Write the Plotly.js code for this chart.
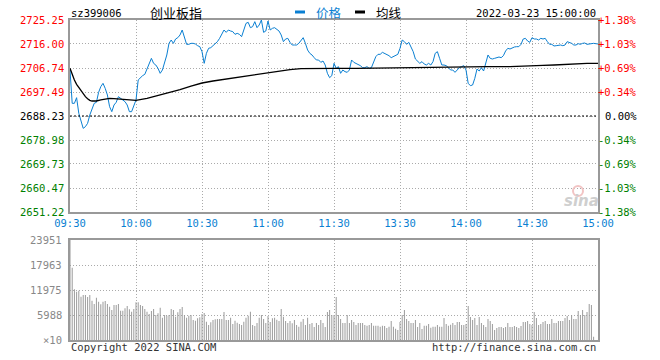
<!DOCTYPE html>
<html><head><meta charset="utf-8">
<script src="https://cdn.plot.ly/plotly-3.0.1.min.js"></script>
<style>html,body{margin:0;padding:0;background:#fff;}#chart{width:660px;height:360px;}</style>
</head><body><div id="chart"></div>
<script>
// ---------- data ----------
const symbol = 'sz399006';
const indexName = '创业板指';
const dateText = '2022-03-23 15:00:00';
const prevClose = 2688.23;
const timeTickLabels = ['09:30','10:00','10:30','11:00','11:30','13:30','14:00','14:30','15:00'];
const priceTickVals = [2725.25,2716.00,2706.74,2697.49,2688.23,2678.98,2669.73,2660.47,2651.22];
const priceTickText = ['2725.25','2716.00','2706.74','2697.49','2688.23','2678.98','2669.73','2660.47','2651.22'];
const pctTickText = ['+1.38%','+1.03%','+0.69%','+0.34%','0.00%','-0.34%','-0.69%','-1.03%','-1.38%'];
const volTickVals = [0,5988,11975,17963,23951];
const volTickText = ['×10','5988','11975','17963','23951'];

const price = [
2705.97,2693.12,2693.12,2695.30,2689.26,2686.05,2683.48,2684.12,2685.41,2688.62,
2690.81,2693.12,2693.51,2697.36,2699.55,2700.83,2698.90,2696.33,2691.83,2689.91,
2692.48,2693.51,2695.69,2695.05,2694.41,2693.76,2692.48,2689.91,2689.91,2691.83,
2694.41,2702.12,2703.02,2703.79,2704.30,2706.61,2708.54,2710.47,2708.54,2707.90,
2706.61,2704.69,2705.97,2708.54,2711.76,2716.25,2717.54,2716.25,2717.92,2718.44,
2719.47,2721.39,2718.18,2715.87,2715.87,2716.25,2716.25,2716.00,2715.35,2714.97,
2713.04,2708.54,2712.40,2714.33,2714.58,2715.35,2715.87,2716.90,2718.18,2720.11,
2721.39,2720.49,2721.39,2721.01,2720.75,2719.72,2720.11,2719.72,2718.82,2721.39,
2723.96,2724.35,2722.29,2722.68,2724.61,2722.29,2723.32,2725.25,2720.49,2721.01,
2724.86,2721.39,2722.04,2722.29,2721.78,2721.01,2719.47,2716.90,2717.92,2718.18,
2716.64,2715.61,2715.61,2715.61,2716.25,2717.54,2718.44,2716.25,2713.68,2712.40,
2711.76,2710.73,2709.83,2709.83,2708.93,2709.44,2707.90,2704.69,2703.02,2703.79,
2708.54,2706.61,2707.26,2704.69,2705.97,2705.33,2705.07,2705.97,2709.83,2708.93,
2708.54,2708.16,2707.64,2706.87,2706.87,2707.26,2706.61,2706.87,2709.19,2711.11,
2712.01,2712.01,2712.78,2712.40,2712.01,2711.50,2710.73,2711.11,2711.50,2712.01,
2714.33,2717.54,2716.90,2715.87,2716.64,2714.97,2713.04,2710.21,2709.44,2708.54,
2709.19,2708.29,2707.90,2708.54,2707.90,2709.19,2712.40,2713.04,2710.47,2707.90,
2707.90,2707.64,2706.87,2705.97,2705.97,2705.07,2705.97,2706.87,2707.26,2707.64,
2705.97,2700.83,2699.93,2700.19,2702.76,2706.36,2705.59,2706.87,2705.59,2709.19,
2711.76,2710.47,2710.21,2710.47,2710.73,2710.98,2710.73,2711.50,2713.30,2714.33,
2714.07,2714.58,2714.84,2714.97,2714.97,2715.87,2717.92,2718.18,2717.15,2716.64,
2718.44,2717.92,2717.92,2717.54,2718.18,2717.92,2718.18,2716.90,2715.87,2715.87,
2715.23,2715.35,2715.61,2715.61,2715.35,2715.61,2716.90,2716.64,2716.25,2715.61,
2715.61,2716.12,2715.87,2716.25,2716.38,2715.87,2716.00,2716.25,2716.25,2716.12,
2716.00];

const avgMinute = [0,1,2,3,4,5,6,7,8,9,10,12,14,16,18,20,25,30,35,40,45,50,55,60,65,70,75,80,85,90,95,100,105,110,120,130,140,150,155,160,170,180,190,200,205,210,215,220,225,230,235,240];
const avgPrice = [2706.61,2704.04,2702.12,2700.45,2699.29,2697.87,2696.59,2695.69,2694.92,2694.28,2694.02,
2694.02,2694.41,2694.79,2695.05,2694.92,2694.66,2694.28,2695.05,2696.08,2697.10,2698.39,2699.80,2700.96,2701.73,2702.37,2702.89,2703.53,2704.04,2704.94,2705.59,2706.10,2706.49,2706.61,
2706.61,2706.61,2706.74,2706.87,2707.00,2707.00,2707.26,2707.26,2707.26,2707.26,2707.51,2707.51,2707.77,2707.90,2708.16,2708.29,2708.54,2708.54];

const volume = [
23951,17325,12136,11577,11816,10379,10778,10778,10299,10778,
9421,8623,10140,9182,8543,9182,9341,8623,7984,7186,
8383,8383,8623,7026,7026,7585,8144,7345,6786,7425,
9022,9022,8383,8144,7425,6786,6228,6946,7425,5988,
6387,7744,5349,5988,5828,5988,7425,7186,5589,6627,
7425,7904,5988,5349,5828,5988,4790,4631,5190,5429,
6228,6467,4391,3593,4232,4790,4950,5030,5030,5030,
6707,4790,4790,5349,3832,4631,4152,3832,3593,4391,
5349,5828,6786,3593,3353,4072,5349,5988,5030,4072,
5748,4311,5190,5349,4870,4551,7425,5589,4551,4072,
4551,3992,4790,3593,3194,4391,5030,3593,5349,3832,
4072,3114,4072,3593,4790,4072,3114,6707,7186,5988,
5988,10299,5988,5030,4072,4072,5988,4072,4790,4311,
3593,4072,4072,4072,3593,3433,3593,4072,3433,3433,
3433,3194,3433,3353,2874,3194,4551,3194,2715,2395,
4311,5988,7186,5030,4551,4072,4072,4790,3114,4072,
2635,3433,3433,3832,2954,3194,3194,3593,3194,3194,
5269,3832,3433,3673,4072,3593,4311,4311,3593,3593,
3832,8144,5509,4790,5269,3593,5509,4072,3593,3114,
5030,4551,3832,2395,2874,3114,3114,2874,3114,4072,
3114,3114,3353,3114,2874,3353,4311,4311,4551,3832,
3593,6707,5269,3593,3832,4311,4551,3832,3832,5030,
4072,4072,4551,4551,4551,5269,5748,4790,5988,5030,
5030,6946,5988,7186,5988,6707,8623,8383,798];

// ---------- helpers ----------
const W = 660, H = 360;
const px = v => v / W;
const py = v => 1 - v / H;
const MONO = 'DejaVu Sans Mono, monospace';
const CJK = 'Noto Sans CJK SC, sans-serif';
const BLUE = '#0a7fd2';
const RED = '#ff0000';
const GREEN = '#008000';
const priceMinutes = price.map((_, i) => i);
const volMinutes = volume.map((_, i) => i);
const timeTickVals = timeTickLabels.map((_, i) => i * 30);

const traces = [
  {x: priceMinutes, y: price, type: 'scatter', mode: 'lines', line: {color: BLUE, width: 1}, xaxis: 'x', yaxis: 'y', hoverinfo: 'skip'},
  {x: avgMinute, y: avgPrice, type: 'scatter', mode: 'lines', line: {color: '#000', width: 1.3}, xaxis: 'x', yaxis: 'y', hoverinfo: 'skip'},
  {x: volMinutes, y: volume, type: 'bar', marker: {color: '#9a9a9a', line: {width: 0}}, width: 0.45, xaxis: 'x2', yaxis: 'y2', hoverinfo: 'skip'}
];

const gridCommon = {showgrid: true, gridcolor: '#aaaaaa', gridwidth: 1, griddash: '1px,2px', zeroline: false,
  showline: true, mirror: true, linecolor: '#999999', linewidth: 2, ticks: ''};

const annotations = [];
priceTickVals.forEach((v, k) => {
  const c = v > prevClose + 0.001 ? RED : (v < prevClose - 0.001 ? GREEN : '#000');
  annotations.push({xref: 'paper', yref: 'y', x: px(66), y: v, xanchor: 'right', yanchor: 'middle',
    text: priceTickText[k], showarrow: false, font: {family: MONO, size: 10.5, color: c}});
  annotations.push({xref: 'paper', yref: 'y', x: px(639), y: v, xanchor: 'right', yanchor: 'middle',
    text: pctTickText[k], showarrow: false, font: {family: MONO, size: 10.5, color: c}});
});
volTickVals.forEach((v, k) => {
  annotations.push({xref: 'paper', yref: 'y2', x: px(64), y: v, xanchor: 'right', yanchor: 'middle',
    text: volTickText[k], showarrow: false, font: {family: MONO, size: 10.5, color: '#888'}});
});
annotations.push(
  {xref: 'paper', yref: 'paper', x: px(69), y: py(13), xanchor: 'left', yanchor: 'middle', text: symbol, showarrow: false, font: {family: MONO, size: 10.5, color: '#000'}},
  {xref: 'paper', yref: 'paper', x: px(176), y: py(13), xanchor: 'center', yanchor: 'middle', text: indexName, showarrow: false, font: {family: CJK, size: 13, color: '#000'}},
  {xref: 'paper', yref: 'paper', x: px(314), y: py(13), xanchor: 'left', yanchor: 'middle', text: '价格', showarrow: false, font: {family: CJK, size: 12.5, color: BLUE}},
  {xref: 'paper', yref: 'paper', x: px(374), y: py(13), xanchor: 'left', yanchor: 'middle', text: '均线', showarrow: false, font: {family: CJK, size: 12.5, color: '#000'}},
  {xref: 'paper', yref: 'paper', x: px(598), y: py(13), xanchor: 'right', yanchor: 'middle', text: dateText, showarrow: false, font: {family: MONO, size: 10.5, color: '#000'}},
  {xref: 'paper', yref: 'paper', x: px(69), y: py(347), xanchor: 'left', yanchor: 'middle', text: 'Copyright 2022 SINA.COM', showarrow: false, font: {family: MONO, size: 10.5, color: '#333'}},
  {xref: 'paper', yref: 'paper', x: px(598), y: py(347), xanchor: 'right', yanchor: 'middle', text: 'http://finance.sina.com.cn', showarrow: false, font: {family: MONO, size: 10.5, color: '#333'}},
  {xref: 'paper', yref: 'paper', x: px(581), y: py(201), xanchor: 'center', yanchor: 'middle', text: '<b><i>sina</i></b>', showarrow: false, font: {family: 'DejaVu Sans, sans-serif', size: 15, color: '#cfcfcf'}}
);

const shapes = [
  {type: 'line', xref: 'x', yref: 'y', x0: 0, x1: 240, y0: prevClose, y1: prevClose, line: {color: '#000', width: 1, dash: '2px,2px'}},
  {type: 'line', xref: 'paper', yref: 'paper', x0: px(295), x1: px(305), y0: py(12), y1: py(12), line: {color: BLUE, width: 3}},
  {type: 'line', xref: 'paper', yref: 'paper', x0: px(355), x1: px(365), y0: py(12), y1: py(12), line: {color: '#000', width: 3}},
  {type: 'circle', xref: 'paper', yref: 'paper', x0: px(573), x1: px(583), y0: py(196), y1: py(186), line: {color: '#f2c4c4', width: 2}, fillcolor: 'rgba(0,0,0,0)'}
];

const layout = {
  width: W, height: H, margin: {l: 0, r: 0, t: 0, b: 0},
  paper_bgcolor: '#fff', plot_bgcolor: '#fff', showlegend: false,
  xaxis: Object.assign({}, gridCommon, {domain: [px(70), px(598)], range: [0, 240], anchor: 'y',
    tickmode: 'array', tickvals: timeTickVals, ticktext: timeTickLabels,
    tickfont: {family: MONO, size: 10.5, color: BLUE}}),
  yaxis: Object.assign({}, gridCommon, {domain: [py(212), py(20)], range: [2651.22, 2725.25], anchor: 'x',
    tickmode: 'array', tickvals: priceTickVals, showticklabels: false}),
  xaxis2: Object.assign({}, gridCommon, {domain: [px(70), px(598)], range: [0, 240], anchor: 'y2',
    tickmode: 'array', tickvals: timeTickVals, showticklabels: false}),
  yaxis2: Object.assign({}, gridCommon, {domain: [py(340), py(240)], range: [0, 23951], anchor: 'x2',
    tickmode: 'array', tickvals: volTickVals, showticklabels: false}),
  annotations: annotations, shapes: shapes
};

Plotly.newPlot('chart', traces, layout, {staticPlot: true, displayModeBar: false});
</script></body></html>
